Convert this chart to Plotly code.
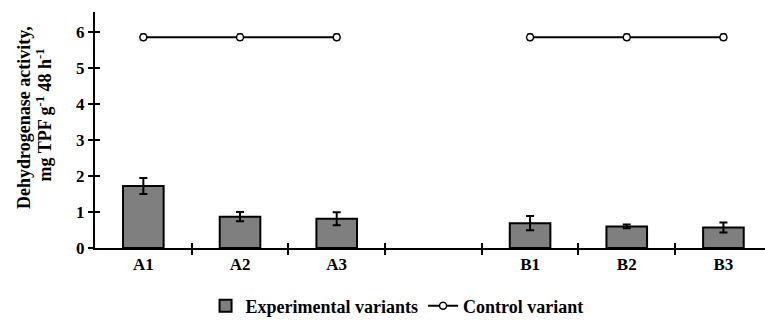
import plotly.graph_objects as go

categories = ["A1", "A2", "A3", "", "B1", "B2", "B3"]
exp_values = [1.72, 0.87, 0.81, None, 0.69, 0.60, 0.57]
exp_errors = [0.22, 0.13, 0.18, None, 0.20, 0.05, 0.14]
ctrl_values = [5.85, 5.85, 5.85, None, 5.85, 5.85, 5.85]
ctrl_errors = [0.08, 0.08, 0.08, None, 0.08, 0.08, 0.08]
y_ticks = [0, 1, 2, 3, 4, 5, 6]
y_title_lines = ["<b>Dehydrogenase activity,</b>", "<b>mg TPF g<sup>-1</sup> 48 h<sup>-1</sup></b>"]

xpos = list(range(len(categories)))
SERIF = "Liberation Serif, Times New Roman, serif"

fig = go.Figure()
fig.add_trace(go.Bar(
    x=xpos, y=exp_values, name="Experimental variants",
    marker=dict(color="#7f7f7f", line=dict(color="black", width=2)),
    error_y=dict(type="data", array=exp_errors, color="black", thickness=2, width=4),
))
fig.add_trace(go.Scatter(
    x=xpos, y=ctrl_values, name="Control variant", mode="lines+markers",
    line=dict(color="black", width=2),
    marker=dict(symbol="circle", size=7, color="white", line=dict(color="black", width=1.5)),
    error_y=dict(type="data", array=ctrl_errors, color="black", thickness=1.5, width=3),
    connectgaps=False,
))
fig.add_trace(go.Scatter(x=[None], y=[None], xaxis="x2", yaxis="y2", showlegend=False))

xr = [-0.5, 6.43]
yr = [0, 6.55]
bounds = [i + 0.5 for i in range(len(categories) - 1)]

# y-axis title as two rotated lines (tighter line spacing as in the reference)
for text, xp, yp in [(y_title_lines[0], -0.106, 0.555), (y_title_lines[1], -0.076, 0.562)]:
    fig.add_annotation(text=text, xref="paper", yref="paper", x=xp, y=yp,
                       xanchor="center", yanchor="middle", textangle=-90, showarrow=False,
                       font=dict(family=SERIF, size=18, color="black"))

fig.update_layout(
    width=765, height=320,
    margin=dict(l=95, r=0, t=12, b=72, autoexpand=False),
    plot_bgcolor="white", paper_bgcolor="white",
    font=dict(family=SERIF, size=17, color="black"),
    bargap=0.58,
    showlegend=True,
    legend=dict(orientation="h", x=0.165, xanchor="left", y=-0.168, yanchor="top",
                font=dict(family=SERIF, size=18, color="black", weight="bold"),
                itemwidth=30, tracegroupgap=0),
    xaxis=dict(range=xr, tickvals=xpos, ticktext=categories, ticks="",
               showline=True, linecolor="black", linewidth=2, showgrid=False, zeroline=False,
               tickfont=dict(family=SERIF, size=17, color="black", weight="bold"),
               minor=dict(tickvals=bounds, ticks="outside", ticklen=5, tickwidth=2, tickcolor="black")),
    yaxis=dict(range=yr, tickvals=y_ticks, ticks="outside", ticklen=5, tickwidth=2, tickcolor="black",
               showline=True, linecolor="black", linewidth=2, showgrid=False, zeroline=False,
               tickfont=dict(family=SERIF, size=17, color="black", weight="bold")),
    xaxis2=dict(range=xr, overlaying="x", anchor="y2", side="bottom", tickvals=bounds,
                ticks="inside", ticklen=5, tickwidth=2, tickcolor="black", showticklabels=False,
                showgrid=False, zeroline=False, showline=False),
    yaxis2=dict(range=yr, overlaying="y", anchor="x2", side="left", tickvals=y_ticks,
                ticks="inside", ticklen=5, tickwidth=2, tickcolor="black", showticklabels=False,
                showgrid=False, zeroline=False, showline=False),
)

fig.write_html("out.html")
